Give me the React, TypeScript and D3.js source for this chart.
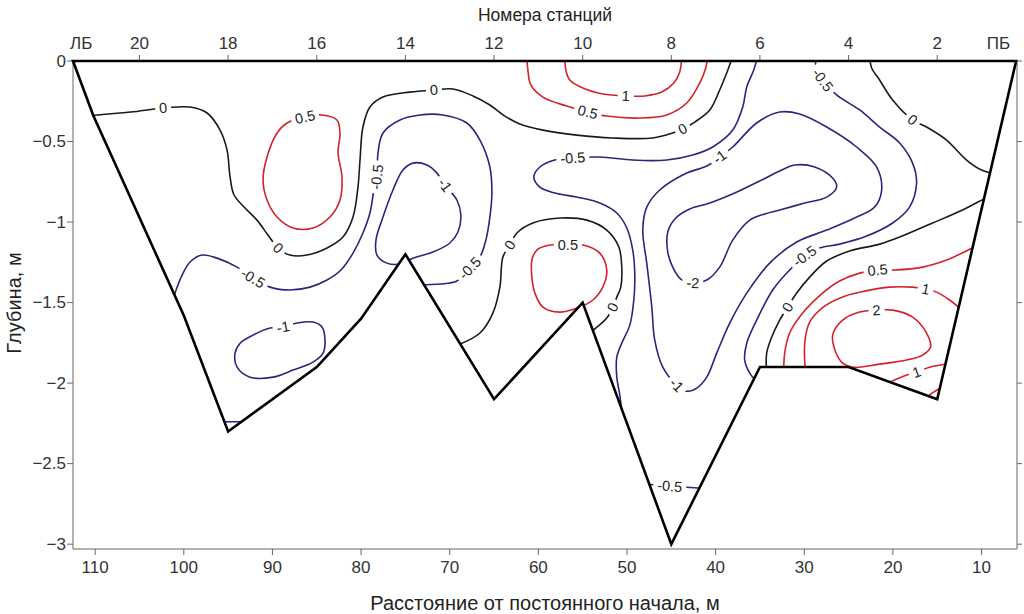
import React from 'react';
import * as d3 from 'd3';

type P = [number, number];

// ---- axes data ----
const distanceDomain: P = [112.5, 6.0];
const depthDomain: P = [0, -3.03];
const depthTicks = [0, -0.5, -1, -1.5, -2, -2.5, -3];
const distanceTicks = [110, 100, 90, 80, 70, 60, 50, 40, 30, 20, 10];
const stationNumbers = [20, 18, 16, 14, 12, 10, 8, 6, 4, 2];
const stationDistances = [105, 95, 85, 75, 65, 55, 45, 35, 25, 15];
const bankLabels = ['ЛБ', 'ПБ'];
const bankDistances = [112.5, 6.1];

// ---- channel cross-section (distance m, depth m) ----
const bedProfile: P[] = [
  [112.5, 0], [110.2, -0.34], [100, -1.58], [95, -2.3], [85, -1.9], [80, -1.6], [75, -1.2],
  [65, -2.1], [55, -1.5], [45, -3], [35, -1.9], [25, -1.9], [15, -2.1], [6.1, 0],
];

// ---- contour lines (distance m, depth m) ----
const c0Top: P[] = [
  [110.6, -0.34], [106.0, -0.317], [102.33, -0.292], [99.29, -0.286], [97.37, -0.323], [95.91, -0.429],
  [95.12, -0.553], [94.78, -0.72], [94.33, -0.832], [93.09, -0.913], [91.74, -0.988], [90.5, -1.081],
  [89.37, -1.161], [88.02, -1.205], [86.1, -1.205], [83.84, -1.161], [82.04, -1.093], [80.91, -0.969],
  [80.35, -0.783], [80.12, -0.615], [79.79, -0.41], [79.0, -0.286], [77.53, -0.224], [74.49, -0.193],
  [71.78, -0.18], [69.64, -0.174], [67.38, -0.217], [65.47, -0.273], [63.78, -0.342], [62.09, -0.391],
  [59.49, -0.429], [55.66, -0.46], [51.6, -0.478], [47.09, -0.478], [44.84, -0.447], [43.71, -0.422],
  [42.36, -0.379], [40.66, -0.304], [39.54, -0.18], [38.75, -0.075], [38.07, 0.03],
];
const r05Top: P[] = [
  [61.3, 0.03], [61.18, -0.056], [60.85, -0.149], [59.49, -0.224], [56.79, -0.28], [54.42, -0.317],
  [52.28, -0.342], [48.56, -0.354], [45.51, -0.335], [43.26, -0.261], [41.79, -0.137], [41.12, -0.043], [40.89, 0.03],
];
const r1Top: P[] = [
  [57.01, 0.03], [56.9, -0.056], [56.45, -0.118], [54.98, -0.168], [52.73, -0.205], [50.13, -0.217],
  [47.99, -0.217], [46.08, -0.193], [44.72, -0.137], [44.05, -0.068], [43.82, 0.03],
];
const b05Mid: P[] = [
  [35.25, 0.03], [35.7, -0.056], [36.49, -0.161], [36.94, -0.286], [38.07, -0.429], [40.33, -0.534],
  [42.58, -0.584], [45.51, -0.615], [49.35, -0.615], [53.07, -0.596], [56.11, -0.602], [58.14, -0.615],
  [59.83, -0.658], [60.51, -0.72], [59.83, -0.783], [58.14, -0.82], [55.66, -0.845], [53.07, -0.882],
  [51.15, -0.944], [50.02, -1.037], [49.35, -1.174], [49.12, -1.329], [49.23, -1.484], [49.68, -1.64],
  [50.59, -1.752], [51.15, -1.839], [51.15, -1.963], [50.81, -2.075], [50.5, -2.22],
];
const b1Right: P[] = [
  [39.54, -0.596], [38.07, -0.534], [35.37, -0.385], [32.77, -0.317], [30.52, -0.329], [27.47, -0.41],
  [24.09, -0.534], [21.84, -0.658], [21.27, -0.801], [22.06, -0.907], [24.32, -0.975], [27.47, -1.05],
  [30.86, -1.124], [33.9, -1.255], [36.49, -1.441], [38.41, -1.627], [39.88, -1.814], [41.0, -1.963],
  [42.13, -2.031], [43.26, -2.05], [44.39, -2.012], [45.96, -1.901], [46.87, -1.733], [47.2, -1.528],
  [47.77, -1.255], [48.22, -1.05], [47.77, -0.907], [46.3, -0.801], [43.26, -0.696], [41.0, -0.652],
];
const b2Loop: P[] = [
  [42.58, -1.379], [41.0, -1.36], [39.54, -1.28], [38.07, -1.112], [36.15, -0.988], [34.46, -0.95],
  [32.77, -0.925], [29.95, -0.882], [27.47, -0.845], [26.35, -0.783], [26.8, -0.727], [28.83, -0.658],
  [31.08, -0.646], [32.77, -0.683], [35.03, -0.745], [37.85, -0.82], [40.66, -0.882], [42.92, -0.919],
  [44.5, -0.975], [45.4, -1.062], [45.4, -1.186], [44.84, -1.28], [43.93, -1.354],
];
const b05Right: P[] = [
  [28.83, 0.03], [28.6, -0.043], [27.93, -0.118], [26.35, -0.211], [23.75, -0.304], [21.5, -0.41],
  [19.24, -0.509], [17.78, -0.634], [17.33, -0.758], [18.12, -0.907], [20.03, -1.006], [22.96, -1.087],
  [26.01, -1.137], [28.26, -1.161], [29.95, -1.211], [31.65, -1.298], [33.56, -1.422], [35.37, -1.609],
  [36.49, -1.752], [36.72, -1.857], [36.15, -1.938], [35.37, -1.99],
];
const k0Right: P[] = [
  [8.0, -0.83], [9.44, -0.851], [12.14, -0.925], [15.52, -1.006], [19.24, -1.093], [21.5, -1.137],
  [24.88, -1.18], [27.47, -1.242], [29.39, -1.342], [30.86, -1.441], [31.87, -1.528], [32.77, -1.609],
  [33.67, -1.714], [34.24, -1.814], [34.24, -1.95],
];
const k0TopRight: P[] = [
  [22.63, 0.03], [22.4, -0.043], [21.5, -0.118], [20.03, -0.242], [17.78, -0.366], [16.2, -0.41],
  [13.95, -0.491], [11.69, -0.615], [10.0, -0.677], [8.53, -0.702], [7.5, -0.71],
];
const r05Right: P[] = [
  [32.32, -1.95], [32.21, -1.814], [31.65, -1.689], [30.18, -1.565], [27.93, -1.441], [26.01, -1.366],
  [23.75, -1.317], [21.72, -1.298], [19.81, -1.298], [16.65, -1.28], [13.95, -1.236], [11.01, -1.161], [9.2, -1.12],
];
const r1Right: P[] = [
  [29.84, -1.95], [29.95, -1.752], [29.39, -1.621], [27.7, -1.522], [25.44, -1.46], [23.19, -1.429],
  [20.37, -1.404], [17.78, -1.404], [16.31, -1.416], [15.07, -1.435], [13.61, -1.484], [11.5, -1.58],
];
const r2Loop: P[] = [
  [25.67, -1.609], [23.75, -1.559], [21.84, -1.547], [20.03, -1.547], [17.78, -1.59], [16.2, -1.689],
  [15.75, -1.776], [16.65, -1.826], [18.45, -1.857], [21.5, -1.882], [24.54, -1.901], [25.67, -1.876],
  [26.46, -1.807], [26.8, -1.702],
];
const r1Low: P[] = [[21.0, -2.01], [18.45, -1.95], [17.33, -1.932], [15.86, -1.901], [13.5, -1.88]];
const rCorner: P[] = [[16.5, -2.1], [15.41, -2.056], [14.0, -2.01]];
const b05Vee: P[] = [[49.0, -2.62], [45.17, -2.64], [40.5, -2.655]];
const b05Left: P[] = [
  [101.32, -1.497], [100.87, -1.422], [100.19, -1.329], [99.29, -1.248], [97.94, -1.205], [96.25, -1.224],
  [93.99, -1.28], [92.19, -1.348], [90.27, -1.404], [88.02, -1.422], [85.76, -1.404], [83.84, -1.36],
  [82.27, -1.298], [80.91, -1.193], [79.79, -1.068], [79.0, -0.944], [78.55, -0.801], [78.21, -0.72],
  [78.09, -0.571], [77.53, -0.447], [75.61, -0.366], [73.36, -0.335], [70.77, -0.335], [68.06, -0.385],
  [66.59, -0.491], [65.47, -0.658], [65.24, -0.82], [65.47, -0.969], [65.92, -1.112], [66.59, -1.217],
  [67.72, -1.286], [69.19, -1.366], [71.1, -1.385], [73.36, -1.39],
];
const b1Mid: P[] = [
  [70.54, -0.77], [69.19, -0.863], [68.74, -0.957], [69.07, -1.062], [69.98, -1.13], [71.89, -1.186],
  [74.15, -1.224], [75.61, -1.261], [77.08, -1.255], [78.21, -1.205], [78.32, -1.112], [77.53, -0.969],
  [76.4, -0.801], [75.28, -0.677], [74.15, -0.634], [72.57, -0.646], [71.44, -0.696],
];
const b1Left: P[] = [
  [88.8, -1.652], [87.23, -1.627], [85.42, -1.621], [84.41, -1.652], [84.07, -1.733], [84.29, -1.814],
  [85.42, -1.87], [87.68, -1.919], [89.93, -1.963], [92.52, -1.963], [93.99, -1.901], [94.22, -1.814],
  [93.65, -1.752], [92.19, -1.702], [90.27, -1.658],
];
const r05Left: P[] = [
  [86.32, -0.348], [84.41, -0.335], [82.72, -0.366], [82.38, -0.447], [82.6, -0.571], [82.15, -0.72],
  [82.38, -0.863], [83.51, -0.969], [85.42, -1.037], [87.68, -1.037], [89.48, -0.969], [90.61, -0.863],
  [91.06, -0.739], [90.61, -0.596], [89.48, -0.447], [88.35, -0.385],
];
const k0Mid: P[] = [
  [69.08, -1.764], [66.59, -1.689], [65.13, -1.565], [64.34, -1.404], [64.0, -1.217], [63.21, -1.143],
  [62.42, -1.068], [60.62, -1.006], [57.58, -0.975], [54.53, -0.988], [52.28, -1.05], [50.92, -1.155],
  [50.59, -1.28], [50.7, -1.404], [51.15, -1.466], [51.6, -1.528], [52.28, -1.596], [53.4, -1.652], [54.42, -1.7],
];
const r05Mid: P[] = [
  [56.67, -1.143], [54.98, -1.143], [53.07, -1.193], [52.28, -1.298], [52.73, -1.404], [53.85, -1.484],
  [55.32, -1.528], [57.58, -1.559], [59.49, -1.528], [60.39, -1.441], [60.73, -1.342], [60.73, -1.236],
  [60.17, -1.174], [58.7, -1.143],
];
const bVeeTiny: P[] = [[96.0, -2.24], [93.0, -2.24]];

type Contour = { id: string; level: number; points: P[]; closed: boolean };
const contours: Contour[] = [
  { id: 'c0Top', level: 0, points: c0Top, closed: false },
  { id: 'r05Top', level: 0.5, points: r05Top, closed: false },
  { id: 'r1Top', level: 1, points: r1Top, closed: false },
  { id: 'b05Mid', level: -0.5, points: b05Mid, closed: false },
  { id: 'b1Right', level: -1, points: b1Right, closed: true },
  { id: 'b2Loop', level: -2, points: b2Loop, closed: true },
  { id: 'b05Right', level: -0.5, points: b05Right, closed: false },
  { id: 'k0Right', level: 0, points: k0Right, closed: false },
  { id: 'k0TopRight', level: 0, points: k0TopRight, closed: false },
  { id: 'r05Right', level: 0.5, points: r05Right, closed: false },
  { id: 'r1Right', level: 1, points: r1Right, closed: false },
  { id: 'r2Loop', level: 2, points: r2Loop, closed: true },
  { id: 'r1Low', level: 1, points: r1Low, closed: false },
  { id: 'rCorner', level: 0.5, points: rCorner, closed: false },
  { id: 'b05Vee', level: -0.5, points: b05Vee, closed: false },
  { id: 'b05Left', level: -0.5, points: b05Left, closed: false },
  { id: 'b1Mid', level: -1, points: b1Mid, closed: true },
  { id: 'b1Left', level: -1, points: b1Left, closed: true },
  { id: 'r05Left', level: 0.5, points: r05Left, closed: true },
  { id: 'k0Mid', level: 0, points: k0Mid, closed: false },
  { id: 'r05Mid', level: 0.5, points: r05Mid, closed: true },
  { id: 'bVeeTiny', level: -0.5, points: bVeeTiny, closed: false },
];

// label: contour id, point index, text
const contourLabels: [string, number, string][] = [
  ['c0Top', 2, '0'], ['c0Top', 12, '0'], ['c0Top', 24, '0'], ['c0Top', 35, '0'],
  ['r05Top', 5, '0.5'], ['r1Top', 5, '1'], ['b05Mid', 10, '-0.5'],
  ['b1Right', 0, '-1'], ['b1Right', 20, '-1'], ['b2Loop', 0, '-2'],
  ['b05Right', 2, '-0.5'], ['b05Right', 14, '-0.5'], ['k0Right', 10, '0'], ['k0TopRight', 4, '0'],
  ['r05Right', 7, '0.5'], ['r1Right', 8, '1'], ['r2Loop', 2, '2'], ['r1Low', 2, '1'],
  ['b05Vee', 1, '-0.5'], ['b05Left', 7, '-0.5'], ['b05Left', 17, '-0.5'], ['b05Left', 30, '-0.5'],
  ['b1Mid', 0, '-1'], ['b1Left', 0, '-1'], ['r05Left', 0, '0.5'], ['k0Mid', 5, '0'], ['k0Mid', 15, '0'],
  ['r05Mid', 0, '0.5'],
];

const FONT = "'Liberation Sans', Arial, Helvetica, sans-serif";
const RED = '#d2222a';
const BLUE = '#29277c';
const BLACK = '#1a1a1a';
const LABEL_SIZE = 14.5;

const colorFor = (v: number) => (v > 0 ? RED : v < 0 ? BLUE : BLACK);
const fmtDepth = (v: number) => (v === 0 ? '0' : '\u2212' + String(Math.abs(v)));
const charW = (ch: string) => (ch === '.' ? 0.278 : ch === '-' ? 0.333 : 0.556) * LABEL_SIZE;

export default function App() {
  const W = 1024, H = 614;
  const L = 73, R = 1017, T = 61, B = 549;
  const x = d3.scaleLinear().domain(distanceDomain).range([L, R]);
  const y = d3.scaleLinear().domain(depthDomain).range([T, B]);

  const open = d3.line<P>().x(d => x(d[0])).y(d => y(d[1])).curve(d3.curveCatmullRom.alpha(0.5));
  const closed = d3.line<P>().x(d => x(d[0])).y(d => y(d[1])).curve(d3.curveCatmullRomClosed.alpha(0.5));
  const poly = d3.line<P>().x(d => x(d[0])).y(d => y(d[1]));
  const sectionPath = poly(bedProfile) + 'Z';

  const byId: Record<string, Contour> = {};
  contours.forEach(c => (byId[c.id] = c));

  const labels = contourLabels.map(([id, i, t]) => {
    const c = byId[id];
    const pts = c.points;
    const n = pts.length;
    const p = i > 0 ? pts[i - 1] : c.closed ? pts[n - 1] : pts[i];
    const q = i < n - 1 ? pts[i + 1] : c.closed ? pts[0] : pts[i];
    let a = (Math.atan2(y(q[1]) - y(p[1]), x(q[0]) - x(p[0])) * 180) / Math.PI;
    if (a > 90) a -= 180;
    if (a < -90) a += 180;
    const w = t.split('').reduce((s, ch) => s + charW(ch), 0);
    return { cx: x(pts[i][0]), cy: y(pts[i][1]), a, t, w, key: id + i };
  });

  return (
    <svg width={W} height={H} style={{ position: 'absolute', left: 0, top: 0, background: '#fff' }} fontFamily={FONT}>
      <rect x={0} y={0} width={W} height={H} fill="#fff" />
      <defs>
        <clipPath id="section">
          <path d={sectionPath} />
        </clipPath>
      </defs>

      {/* axes frame */}
      <g stroke="#666" strokeWidth={1} fill="none">
        <line x1={L} y1={T} x2={L} y2={B} />
        <line x1={L} y1={B} x2={R} y2={B} />
        <line x1={R} y1={T} x2={R} y2={B} />
        {depthTicks.map(v => (
          <g key={'yt' + v}>
            <line x1={L - 6} x2={L} y1={y(v)} y2={y(v)} />
            <line x1={R} x2={R + 5} y1={y(v)} y2={y(v)} />
          </g>
        ))}
        {distanceTicks.map(v => (
          <line key={'xt' + v} x1={x(v)} x2={x(v)} y1={B} y2={B + 6} />
        ))}
        {stationDistances.map(v => (
          <line key={'st' + v} x1={x(v)} x2={x(v)} y1={T} y2={T - 6} />
        ))}
      </g>

      {/* tick labels */}
      <g fill="#333" fontSize={17}>
        {depthTicks.map(v => (
          <text key={'yl' + v} x={L - 7} y={y(v)} textAnchor="end" dominantBaseline="central">
            {fmtDepth(v)}
          </text>
        ))}
        {distanceTicks.map(v => (
          <text key={'xl' + v} x={x(v)} y={B + 18} textAnchor="middle" dominantBaseline="central">
            {v}
          </text>
        ))}
        {stationNumbers.map((s, i) => (
          <text key={'sl' + s} x={x(stationDistances[i])} y={T - 18} textAnchor="middle" dominantBaseline="central">
            {s}
          </text>
        ))}
        <text x={x(bankDistances[0]) - 3} y={T - 18} textAnchor="start" dominantBaseline="central">
          {bankLabels[0]}
        </text>
        <text x={x(bankDistances[1]) - 6} y={T - 18} textAnchor="end" dominantBaseline="central">
          {bankLabels[1]}
        </text>
      </g>

      {/* axis titles */}
      <g fill="#222">
        <text x={545} y={603} fontSize={20} textAnchor="middle" dominantBaseline="central">
          Расстояние от постоянного начала, м
        </text>
        <text x={545} y={15} fontSize={17.5} textAnchor="middle" dominantBaseline="central">
          Номера станций
        </text>
        <text transform="translate(14,303) rotate(-90)" fontSize={20} textAnchor="middle" dominantBaseline="central">
          Глубина, м
        </text>
      </g>

      {/* contours */}
      <g clipPath="url(#section)" fill="none" strokeWidth={1.6} strokeLinejoin="round">
        {contours.map(c => (
          <path key={c.id} d={(c.closed ? closed : open)(c.points) || ''} stroke={colorFor(c.level)} />
        ))}
      </g>

      {/* contour labels */}
      <g fontSize={LABEL_SIZE} fill="#222">
        {labels.map(l => (
          <g key={l.key} transform={`translate(${l.cx},${l.cy}) rotate(${l.a})`}>
            <rect x={-l.w / 2 - 4} y={-6} width={l.w + 8} height={12} fill="#fff" />
            <text x={0} y={0} textAnchor="middle" dominantBaseline="central">
              {l.t}
            </text>
          </g>
        ))}
      </g>

      {/* channel outline */}
      <path d={sectionPath} fill="none" stroke="#000" strokeWidth={2.6} strokeLinejoin="miter" />
    </svg>
  );
}
